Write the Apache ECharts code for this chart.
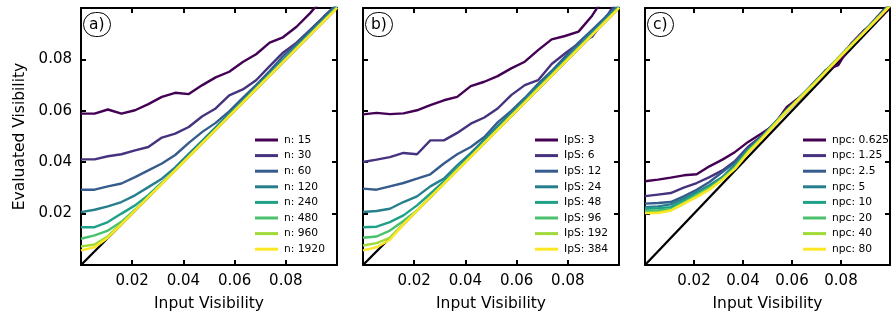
<!DOCTYPE html>
<html><head><meta charset="utf-8">
<script src="https://cdn.jsdelivr.net/npm/echarts@6/dist/echarts.min.js"></script>
<style>html,body{margin:0;padding:0;background:#fff}#c{width:893px;height:320px}</style>
</head><body><div id="c"></div>
<script>
const xVals = [0, 0.0053, 0.0105, 0.0158, 0.0211, 0.0263, 0.0316, 0.0368, 0.0421, 0.0474, 0.0526, 0.0579, 0.0632, 0.0684, 0.0737, 0.0789, 0.0842, 0.0895, 0.0947, 0.1];
const tickLabels = ['0.02', '0.04', '0.06', '0.08'];
const colors = ['#440154', '#46327e', '#365c8d', '#277f8e', '#1fa187', '#4ac16d', '#a0da39', '#fde725'];
const panelLabels = ['a)', 'b)', 'c)'];
const xTitle = 'Input Visibility';
const yTitle = 'Evaluated Visibility';

const nNames = ['n: 15', 'n: 30', 'n: 60', 'n: 120', 'n: 240', 'n: 480', 'n: 960', 'n: 1920'];
const n15 = [0.0589, 0.0589, 0.0605, 0.0589, 0.0602, 0.0626, 0.0654, 0.067, 0.0665, 0.070, 0.073, 0.0752, 0.079, 0.082, 0.0865, 0.0886, 0.0927, 0.098, 0.104, 0.11];
const n30 = [0.0411, 0.0411, 0.0423, 0.0431, 0.0446, 0.0459, 0.0496, 0.0511, 0.0537, 0.0579, 0.0609, 0.066, 0.0683, 0.0719, 0.0774, 0.0826, 0.0865, 0.0915, 0.0965, 0.1015];
const n60 = [0.0293, 0.0293, 0.0306, 0.0317, 0.0342, 0.0368, 0.0395, 0.0428, 0.0475, 0.0518, 0.0553, 0.0598, 0.065, 0.07, 0.0755, 0.0812, 0.0862, 0.0912, 0.0963, 0.1015];
const n120 = [0.0206, 0.0215, 0.0228, 0.0245, 0.0271, 0.0303, 0.0336, 0.038, 0.0432, 0.0484, 0.0536, 0.0589, 0.064, 0.0693, 0.0745, 0.0798, 0.085, 0.0903, 0.0955, 0.1008];
const n240 = [0.0147, 0.0147, 0.0167, 0.02, 0.0232, 0.0272, 0.032, 0.037, 0.0424, 0.0478, 0.053, 0.0583, 0.0636, 0.0688, 0.0741, 0.0793, 0.0846, 0.0899, 0.0951, 0.1004];
const n480 = [0.0102, 0.0115, 0.0134, 0.0168, 0.0215, 0.0266, 0.0318, 0.037, 0.0423, 0.0476, 0.0528, 0.0581, 0.0634, 0.0686, 0.0739, 0.0791, 0.0844, 0.0897, 0.0949, 0.1002];
const n960 = [0.0072, 0.008, 0.0112, 0.0162, 0.0213, 0.0265, 0.0317, 0.0369, 0.0422, 0.0475, 0.0527, 0.058, 0.0633, 0.0685, 0.0738, 0.079, 0.0843, 0.0896, 0.0948, 0.1001];
const n1920 = [0.0057, 0.0069, 0.0106, 0.0158, 0.0211, 0.0264, 0.0316, 0.0368, 0.0421, 0.0474, 0.0526, 0.0579, 0.0632, 0.0684, 0.0737, 0.0789, 0.0842, 0.0895, 0.0947, 0.1];

const lpsNames = ['IpS: 3', 'IpS: 6', 'IpS: 12', 'IpS: 24', 'IpS: 48', 'IpS: 96', 'IpS: 192', 'IpS: 384'];
const lps3 = [0.0586, 0.0592, 0.0587, 0.059, 0.0602, 0.0622, 0.0641, 0.0654, 0.0696, 0.0713, 0.0735, 0.0765, 0.0791, 0.0836, 0.0878, 0.0891, 0.0908, 0.097, 0.105, 0.11];
const lps6 = [0.0401, 0.041, 0.042, 0.0436, 0.0431, 0.0485, 0.0485, 0.0514, 0.055, 0.0574, 0.0609, 0.0661, 0.07, 0.0719, 0.0782, 0.0823, 0.0862, 0.0888, 0.096, 0.104];
const lps12 = [0.0297, 0.0293, 0.0306, 0.0319, 0.0336, 0.0353, 0.0395, 0.0431, 0.0459, 0.0498, 0.0555, 0.06, 0.065, 0.0705, 0.0755, 0.081, 0.0865, 0.0915, 0.0965, 0.1015];
const lps24 = [0.0206, 0.021, 0.0219, 0.0245, 0.0267, 0.0306, 0.0336, 0.0388, 0.0435, 0.0488, 0.054, 0.0592, 0.0645, 0.0697, 0.075, 0.08, 0.0852, 0.0905, 0.0957, 0.101];
const lps48 = [0.0147, 0.0149, 0.0167, 0.0193, 0.0232, 0.0278, 0.0325, 0.0375, 0.0427, 0.048, 0.0532, 0.0584, 0.0637, 0.0689, 0.0742, 0.0794, 0.0847, 0.09, 0.0952, 0.1005];
const lps96 = [0.0106, 0.0111, 0.0134, 0.0171, 0.0212, 0.0266, 0.0318, 0.037, 0.0423, 0.0476, 0.0528, 0.0581, 0.0634, 0.0686, 0.0739, 0.0791, 0.0844, 0.0897, 0.0949, 0.1002];
const lps192 = [0.0076, 0.0085, 0.0106, 0.016, 0.0212, 0.0265, 0.0317, 0.0369, 0.0422, 0.0475, 0.0527, 0.058, 0.0633, 0.0685, 0.0738, 0.079, 0.0843, 0.0896, 0.0948, 0.1001];
const lps384 = [0.0057, 0.0069, 0.0098, 0.0158, 0.0211, 0.0264, 0.0316, 0.0368, 0.0421, 0.0474, 0.0526, 0.0579, 0.0632, 0.0684, 0.0737, 0.0789, 0.0842, 0.0895, 0.0947, 0.1];

const npcNames = ['npc: 0.625', 'npc: 1.25', 'npc: 2.5', 'npc: 5', 'npc: 10', 'npc: 20', 'npc: 40', 'npc: 80'];
const npc0625 = [0.0326, 0.0332, 0.034, 0.0349, 0.0353, 0.0384, 0.041, 0.044, 0.0479, 0.0511, 0.0544, 0.0615, 0.0654, 0.07, 0.0758, 0.0778, 0.0862, 0.0914, 0.0953, 0.1005];
const npc125 = [0.0268, 0.0274, 0.028, 0.0301, 0.0319, 0.0342, 0.0368, 0.0405, 0.046, 0.050, 0.055, 0.0605, 0.065, 0.0705, 0.0755, 0.0805, 0.086, 0.091, 0.0965, 0.102];
const npc25 = [0.0239, 0.0241, 0.0245, 0.0267, 0.0293, 0.0323, 0.0362, 0.0401, 0.0455, 0.0497, 0.0548, 0.060, 0.0648, 0.0698, 0.0752, 0.0805, 0.0855, 0.0905, 0.096, 0.1015];
const npc5 = [0.0225, 0.0228, 0.0236, 0.0258, 0.0284, 0.031, 0.0342, 0.0392, 0.045, 0.0495, 0.0545, 0.0598, 0.0648, 0.0695, 0.075, 0.0805, 0.0852, 0.0905, 0.0958, 0.101];
const npc10 = [0.0219, 0.0221, 0.0225, 0.025, 0.0278, 0.0305, 0.034, 0.0385, 0.0445, 0.0495, 0.0545, 0.0602, 0.065, 0.0698, 0.0752, 0.0803, 0.0855, 0.0908, 0.0958, 0.1012];
const npc20 = [0.021, 0.0212, 0.0217, 0.0243, 0.0272, 0.03, 0.0335, 0.038, 0.0442, 0.0493, 0.0548, 0.0603, 0.0652, 0.0702, 0.0755, 0.0806, 0.0858, 0.0908, 0.096, 0.1012];
const npc40 = [0.0203, 0.0205, 0.0212, 0.0238, 0.0268, 0.0297, 0.0333, 0.0377, 0.044, 0.049, 0.0545, 0.06, 0.065, 0.07, 0.0752, 0.0805, 0.0856, 0.0906, 0.0958, 0.101];
const npc80 = [0.0202, 0.0202, 0.0212, 0.0239, 0.0264, 0.0293, 0.0332, 0.0375, 0.0437, 0.0488, 0.0542, 0.0598, 0.0648, 0.0698, 0.075, 0.0802, 0.0854, 0.0905, 0.0956, 0.1008];

const diagonal = [[0, 0], [0.1, 0.1]];

const panels = [
  { names: nNames, values: [n15, n30, n60, n120, n240, n480, n960, n1920] },
  { names: lpsNames, values: [lps3, lps6, lps12, lps24, lps48, lps96, lps192, lps384] },
  { names: npcNames, values: [npc0625, npc125, npc25, npc5, npc10, npc20, npc40, npc80] }
];

const FONT = 'DejaVu Sans';
const gridLeft = [81, 363, 645];
const legendLeft = [255, 535, 803];
const W = 256, TOP = 8, H = 257;

const fmt = v => {
  const s = v.toFixed(2);
  return tickLabels.indexOf(s) >= 0 ? s : '';
};

const option = {
  animation: false,
  backgroundColor: '#fff',
  grid: [], xAxis: [], yAxis: [], series: [], legend: [], title: []
};

panels.forEach((p, k) => {
  option.grid.push({ left: gridLeft[k], top: TOP, width: W, height: H, containLabel: false });
  const axisLine = { show: true, onZero: false, lineStyle: { color: '#000', width: 2 } };
  const axisTick = { show: true, inside: true, length: 5, lineStyle: { color: '#000', width: 2 } };
  const base = { type: 'value', min: 0, max: 0.1, interval: 0.02, gridIndex: k, splitLine: { show: false }, axisLine, axisTick };
  option.xAxis.push(Object.assign({}, base, {
    position: 'bottom',
    name: xTitle, nameLocation: 'middle', nameGap: 31,
    nameTextStyle: { fontFamily: FONT, fontSize: 15.5, color: '#000' },
    axisLabel: { show: true, margin: 9, formatter: fmt, fontFamily: FONT, fontSize: 15, color: '#000' }
  }));
  option.xAxis.push(Object.assign({}, base, { position: 'top', axisLabel: { show: false } }));
  option.yAxis.push(Object.assign({}, base, {
    position: 'left',
    name: k === 0 ? yTitle : '', nameLocation: 'middle', nameGap: 53,
    nameTextStyle: { fontFamily: FONT, fontSize: 15.5, color: '#000' },
    axisLabel: { show: k === 0, margin: 9, formatter: fmt, fontFamily: FONT, fontSize: 15, color: '#000' }
  }));
  option.yAxis.push(Object.assign({}, base, { position: 'right', axisLabel: { show: false } }));

  option.series.push({
    type: 'line', xAxisIndex: 2 * k, yAxisIndex: 2 * k, data: diagonal,
    showSymbol: false, symbol: 'none', silent: true, z: 1,
    lineStyle: { color: '#000', width: 2.3 }
  });
  p.names.forEach((name, i) => {
    option.series.push({
      type: 'line', name, xAxisIndex: 2 * k, yAxisIndex: 2 * k,
      data: xVals.map((x, j) => [x, p.values[i][j]]),
      symbol: 'none', showSymbol: false, clip: true, z: 2 + i,
      color: colors[i],
      lineStyle: { color: colors[i], width: 2.4 }
    });
  });
  option.legend.push({
    data: p.names, left: legendLeft[k], top: 134, orient: 'vertical',
    icon: 'rect', itemWidth: 23, itemHeight: 3, itemGap: 3.6,
    padding: 0, selectedMode: false,
    textStyle: { fontFamily: FONT, fontSize: 10.7, color: '#000', lineHeight: 12, padding: [0, 0, 0, 1] }
  });
  option.title.push({
    text: panelLabels[k], left: gridLeft[k] + 2, top: TOP + 4,
    padding: [3, 6, 3, 6], borderColor: '#000', borderWidth: 1, borderRadius: 13,
    textStyle: { fontFamily: FONT, fontSize: 15.5, fontWeight: 'normal', color: '#000', lineHeight: 19 }
  });
});

const chart = echarts.init(document.getElementById('c'), null, { renderer: 'canvas' });
chart.setOption(option);
</script>
</body></html>
